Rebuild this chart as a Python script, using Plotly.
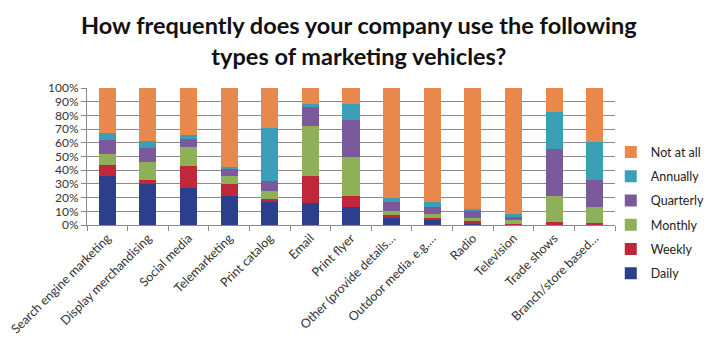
import plotly.graph_objects as go

categories = ["Search engine marketing", "Display merchandising", "Social media", "Telemarketing",
              "Print catalog", "Email", "Print flyer", "Other (provide details…",
              "Outdoor media, e.g.…", "Radio", "Television", "Trade shows", "Branch/store based…"]

daily =     [36, 30, 27, 21, 17, 16, 13, 5, 4, 1, 0, 0, 0]
weekly =    [8, 3, 16, 9, 2, 20, 8, 2, 1, 2, 1, 2, 1.5]
monthly =   [8, 13, 14, 6, 6, 36, 29, 3, 3, 2, 3, 19.5, 12]
quarterly = [10, 10, 6, 5, 7, 14, 27, 7, 5, 5, 1.5, 34, 19]
annually =  [5, 5, 3, 1, 39, 2, 11, 3, 4, 2, 2.5, 27, 28]
not_at_all = [round(100 - (a + b + c + d + e), 1) for a, b, c, d, e in
              zip(daily, weekly, monthly, quarterly, annually)]

series = [("Daily", daily, "#2B3F8C"),
          ("Weekly", weekly, "#C0283A"),
          ("Monthly", monthly, "#8DB058"),
          ("Quarterly", quarterly, "#7A5A9C"),
          ("Annually", annually, "#3C9FB8"),
          ("Not at all", not_at_all, "#E8884C")]

fig = go.Figure()
n = len(series)
for i, (name, vals, color) in enumerate(series):
    fig.add_trace(go.Bar(x=categories, y=vals, name=name, marker_color=color,
                         marker_line_width=0, legendgroup=name, legendrank=n - i))

fig.add_annotation(text="<b>How frequently does your company use the following<br>types of marketing vehicles?</b>",
                   xref="paper", yref="paper", x=0.515, y=1.0 + 47 / 137, xanchor="center", yanchor="middle",
                   showarrow=False, align="center",
                   font=dict(family="Lato, Open Sans, sans-serif", size=23.5, color="#111111"))

fig.update_layout(
    barmode="stack",
    bargap=0.58,
    width=709, height=347,
    margin=dict(l=79, r=102, t=80, b=130, autoexpand=False),
    paper_bgcolor="white", plot_bgcolor="white",
    font=dict(family="Lato, Open Sans, sans-serif", size=11, color="#333333"),
    legend=dict(traceorder="grouped", tracegroupgap=5, x=0.992, xanchor="left",
                y=0.64, yanchor="top", font=dict(size=12.5, color="#222222"),
                itemwidth=30, bgcolor="rgba(0,0,0,0)", maxheight=320),
    showlegend=True,
)
fig.update_xaxes(tickangle=-45, showline=True, linecolor="#888888", ticks="outside",
                 tickson="boundaries", ticklen=5, tickcolor="#888888", showgrid=False,
                 automargin=False, tickfont=dict(size=12.5, color="#333333"))
fig.update_yaxes(range=[0, 100], dtick=10, ticksuffix="%", showgrid=True, gridcolor="#8a8a8a",
                 gridwidth=1, showline=True, linecolor="#888888", ticks="outside", ticklen=5,
                 tickcolor="#888888", automargin=False, tickfont=dict(size=12, color="#333333"),
                 zeroline=False)

fig.write_html("out.html")
